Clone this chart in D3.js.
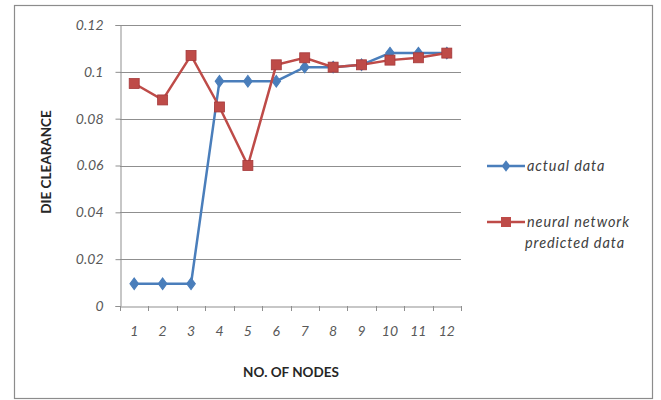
<!DOCTYPE html>
<html>
<head>
<meta charset="utf-8">
<script src="https://cdn.jsdelivr.net/npm/d3@7"></script>
<style>
  html, body { margin: 0; padding: 0; background: #ffffff; }
  svg { display: block; }
  .tick text { font-family: Lato, "Open Sans", sans-serif; font-style: italic; fill: #595959; }
</style>
</head>
<body>
<svg id="chart" width="661" height="400"></svg>
<script>
// Number of nodes on the x axis
const nodes = ["1", "2", "3", "4", "5", "6", "7", "8", "9", "10", "11", "12"];
// Measured die clearance
const actualData = [0.0095, 0.0095, 0.0095, 0.096, 0.096, 0.096, 0.102, 0.102, 0.103, 0.108, 0.108, 0.108];
// Die clearance predicted by the neural network
const predictedData = [0.095, 0.088, 0.107, 0.085, 0.060, 0.103, 0.106, 0.102, 0.103, 0.105, 0.106, 0.108];
// Value axis ticks
const yTicks = [0, 0.02, 0.04, 0.06, 0.08, 0.1, 0.12];

const svg = d3.select("#chart");

// chart frame
svg.append("rect")
  .attr("x", 14.5).attr("y", 5.5)
  .attr("width", 638).attr("height", 393)
  .attr("fill", "#ffffff")
  .attr("stroke", "#8c8c8c").attr("stroke-width", 1.2);

const plot = { left: 120, right: 461, top: 25, bottom: 306 };

const x = d3.scaleBand().domain(nodes).range([plot.left, plot.right]);
const y = d3.scaleLinear().domain([0, 0.12]).range([plot.bottom, plot.top]);

// horizontal gridlines
svg.append("g")
  .selectAll("line")
  .data(yTicks.filter(d => d > 0))
  .join("line")
  .attr("x1", plot.left).attr("x2", plot.right)
  .attr("y1", d => Math.round(y(d)) + 0.5).attr("y2", d => Math.round(y(d)) + 0.5)
  .attr("stroke", "#8f8f8f").attr("stroke-width", 1);

// y axis
const yAxis = svg.append("g")
  .attr("transform", `translate(${plot.left + 0.5},0)`)
  .call(d3.axisLeft(y).tickValues(yTicks).tickSize(5).tickPadding(12)
    .tickFormat(d => d === 0 ? "0" : String(+d.toFixed(2))));
yAxis.select(".domain").attr("stroke", "#8f8f8f");
yAxis.selectAll(".tick line").attr("stroke", "#8f8f8f");
yAxis.selectAll(".tick text").attr("font-size", 14);

// x axis with ticks between categories
const xAxis = svg.append("g")
  .attr("transform", `translate(0,${Math.round(plot.bottom) + 0.5})`)
  .call(d3.axisBottom(x).tickSize(0).tickPadding(20));
xAxis.select(".domain").attr("stroke", "#8f8f8f");
xAxis.selectAll(".tick text").attr("font-size", 14);
svg.append("g")
  .selectAll("line")
  .data(d3.range(nodes.length + 1))
  .join("line")
  .attr("x1", i => Math.round(plot.left + i * x.step()) + 0.5)
  .attr("x2", i => Math.round(plot.left + i * x.step()) + 0.5)
  .attr("y1", plot.bottom).attr("y2", plot.bottom + 5)
  .attr("stroke", "#8f8f8f");

// axis titles
svg.append("text")
  .attr("x", 291).attr("y", 377)
  .attr("text-anchor", "middle")
  .attr("font-family", "Lato, 'Open Sans', sans-serif")
  .attr("font-weight", "bold").attr("font-size", 13.5)
  .attr("fill", "#262626")
  .text("NO. OF NODES");
svg.append("text")
  .attr("transform", "translate(51,162) rotate(-90)")
  .attr("text-anchor", "middle")
  .attr("font-family", "Lato, 'Open Sans', sans-serif")
  .attr("font-weight", "bold").attr("font-size", 13.5)
  .attr("fill", "#262626")
  .text("DIE CLEARANCE");

const cx = (d, i) => x(nodes[i]) + x.bandwidth() / 2;
const line = d3.line().x((d, i) => cx(d, i)).y(d => y(d));

const blue = "#4a7ebb";
const red = "#be4b48";

// actual data series
svg.append("path")
  .datum(actualData)
  .attr("d", line)
  .attr("fill", "none").attr("stroke", blue).attr("stroke-width", 2.5);
const diamond = d3.symbol().type(d3.symbolDiamond).size(48);
svg.append("g")
  .selectAll("path")
  .data(actualData)
  .join("path")
  .attr("d", diamond)
  .attr("transform", (d, i) => `translate(${cx(d, i)},${y(d)}) scale(1.15,0.9)`)
  .attr("fill", blue).attr("stroke", blue);

// predicted data series
svg.append("path")
  .datum(predictedData)
  .attr("d", line)
  .attr("fill", "none").attr("stroke", red).attr("stroke-width", 2.5);
svg.append("g")
  .selectAll("rect")
  .data(predictedData)
  .join("rect")
  .attr("x", (d, i) => cx(d, i) - 5).attr("y", d => y(d) - 5)
  .attr("width", 10).attr("height", 10)
  .attr("fill", red).attr("stroke", "#a5393a").attr("stroke-width", 0.8);

// legend
const legend = svg.append("g")
  .attr("font-family", "Lato, 'Open Sans', sans-serif")
  .attr("font-style", "italic").attr("font-size", 14.5)
  .attr("letter-spacing", 0.9).attr("fill", "#404040");
const lg1 = legend.append("g").attr("transform", "translate(487,166)");
lg1.append("line").attr("x1", 0).attr("x2", 38).attr("stroke", blue).attr("stroke-width", 2.5);
lg1.append("path").attr("d", diamond).attr("transform", "translate(19,0) scale(1.15,0.9)").attr("fill", blue);
lg1.append("text").attr("x", 40).attr("y", 5).text("actual data");

const lg2 = legend.append("g").attr("transform", "translate(487,222)");
lg2.append("line").attr("x1", 0).attr("x2", 38).attr("stroke", red).attr("stroke-width", 2.5);
lg2.append("rect").attr("x", 14).attr("y", -5).attr("width", 10).attr("height", 10).attr("fill", red);
lg2.append("text").attr("x", 40).attr("y", 5).text("neural network");
lg2.append("text").attr("x", 38).attr("y", 26).text("predicted data");
</script>
</body>
</html>
